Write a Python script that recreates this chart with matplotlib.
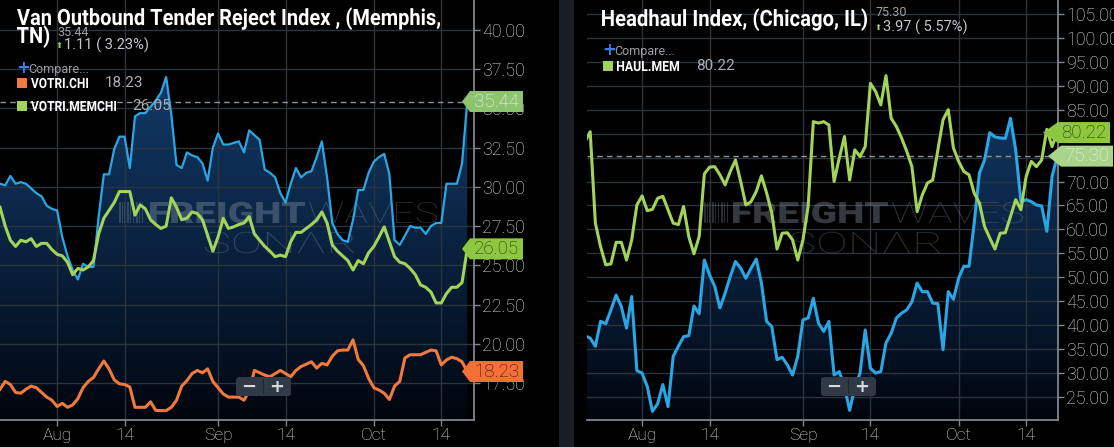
import matplotlib
matplotlib.use('Agg')
import numpy as np
import pandas as pd
import matplotlib.pyplot as plt
import matplotlib.dates as mdates
from matplotlib.patches import Polygon, FancyBboxPatch, Rectangle, PathPatch
from matplotlib.transforms import IdentityTransform, Affine2D
from matplotlib.textpath import TextPath
from matplotlib.font_manager import FontProperties

W, H = 1114, 447

start_date = '2019-07-21'
tick_dates = ['2019-08-01', '2019-08-14', '2019-09-01', '2019-09-14', '2019-10-01', '2019-10-14']
tick_labels = ['Aug', '14', 'Sep', '14', 'Oct', '14']

# left panel: Van Outbound Tender Reject Index (Memphis) + compares
votri_mem = [30.2, 30.1, 30.7, 30.2, 30.3, 30.2, 29.9, 29.6, 29.4, 28.8,
             28.6, 28.5, 26.8, 25.6, 24.7, 24.1, 25.1, 24.9, 24.9, 28.1,
             30.8, 30.8, 32.4, 33.2, 33.2, 31.2, 34.5, 34.7, 34.7, 35.1,
             35.5, 36.0, 37.0, 34.6, 31.4, 31.2, 32.2, 32.0, 31.9, 31.5,
             30.4, 32.5, 33.4, 32.7, 32.7, 32.8, 32.9, 32.2, 33.6, 33.3,
             33.0, 31.1, 30.9, 30.6, 29.6, 29.0, 30.2, 31.2, 30.6, 30.9,
             31.0, 31.9, 32.9, 30.6, 27.7, 27.0, 26.6, 26.5, 27.9, 29.8,
             29.8, 30.9, 31.6, 31.9, 32.1, 30.8, 26.6, 26.3, 26.9, 27.5,
             27.4, 27.4, 27.0, 27.5, 27.7, 27.7, 30.2, 30.2, 30.2, 31.5,
             35.44]
votri_chi = [17.1, 17.6, 17.4, 16.9, 16.85, 17.1, 17.3, 17.2, 16.9, 16.6,
             16.4, 16.0, 16.2, 15.95, 16.1, 16.5, 17.2, 17.6, 17.85, 18.4,
             18.9, 18.4, 17.7, 17.45, 17.4, 17.25, 15.95, 15.95, 15.95, 16.3,
             15.75, 15.74, 15.74, 15.95, 16.4, 17.3, 17.65, 18.1, 18.3, 18.15,
             18.4, 17.6, 17.2, 16.8, 16.6, 16.6, 16.6, 16.4, 17.0, 18.3,
             18.15, 18.0, 17.9, 18.1, 18.3, 18.1, 17.9, 18.3, 18.55, 18.7,
             18.85, 18.45, 18.75, 18.65, 19.2, 19.55, 19.6, 19.6, 20.25, 19.0,
             18.6, 17.8, 17.2, 17.05, 16.85, 16.45, 17.3, 17.6, 19.1, 19.3,
             19.3, 19.3, 19.45, 19.6, 19.55, 18.65, 18.97, 19.14, 19.05, 18.85,
             18.23]
votri_memchi = [28.7, 27.5, 26.6, 26.2, 26.6, 26.5, 26.7, 26.2, 26.4, 26.4,
                26.0, 25.7, 25.6, 25.2, 24.4, 24.8, 24.7, 24.9, 25.3, 27.0,
                28.0, 28.5, 29.0, 29.7, 29.7, 29.7, 28.2, 28.85, 28.6, 27.9,
                27.6, 27.35, 27.5, 29.3, 28.7, 27.9, 28.0, 28.4, 28.3, 27.9,
                26.9, 25.9, 26.8, 28.0, 27.35, 27.45, 27.6, 27.7, 28.1, 27.0,
                26.6, 26.2, 25.9, 25.55, 25.65, 25.55, 26.5, 27.1, 27.1, 27.35,
                27.6, 27.9, 28.4, 27.7, 26.3, 25.9, 25.6, 25.3, 24.7, 25.3,
                25.1, 25.8, 26.2, 26.8, 27.45, 26.5, 25.55, 25.2, 25.1, 24.8,
                24.4, 23.75, 23.6, 23.3, 22.6, 22.6, 23.2, 23.6, 23.6, 23.9,
                26.05]

# right panel: Headhaul Index (Chicago) + HAUL.MEM
haul_chi = [37.8, 37.3, 35.6, 40.8, 40.3, 43.2, 46.3, 43.9, 39.4, 46.0,
            30.5, 30.0, 27.2, 22.0, 23.6, 27.6, 23.0, 33.5, 35.6, 37.6,
            37.8, 44.0, 42.4, 53.6, 50.5, 48.1, 43.6, 46.7, 50.2, 53.3,
            51.9, 49.8, 51.9, 53.8, 48.8, 40.8, 39.7, 32.8, 33.3, 31.7,
            29.6, 33.5, 41.1, 41.5, 45.6, 40.4, 38.7, 40.8, 29.6, 30.3,
            27.2, 22.2, 27.0, 30.0, 39.0, 31.0, 30.0, 30.3, 36.3, 38.3,
            41.5, 42.5, 43.2, 44.9, 48.8, 47.0, 47.0, 44.6, 44.5, 34.9,
            47.0, 45.4, 49.8, 52.3, 52.3, 61.3, 71.7, 74.5, 80.2, 79.3,
            79.1, 79.0, 83.2, 76.6, 65.8, 66.2, 65.8, 65.1, 64.9, 59.6,
            71.0, 75.30]
haul_mem = [78.3, 80.4, 61.3, 56.4, 52.6, 52.8, 57.3, 57.3, 53.6, 57.8,
            65.1, 67.0, 63.9, 64.2, 66.5, 66.9, 64.1, 61.3, 61.0, 64.8,
            58.5, 54.9, 58.5, 71.6, 73.0, 73.1, 71.4, 69.3, 72.1, 74.5,
            70.0, 65.1, 65.8, 67.9, 71.2, 67.6, 63.4, 55.9, 59.2, 59.3,
            57.8, 53.6, 57.8, 64.8, 82.5, 82.2, 82.5, 81.8, 70.0, 74.9,
            79.4, 70.3, 76.6, 75.2, 77.3, 90.5, 88.8, 86.0, 92.1, 83.2,
            81.5, 79.1, 76.3, 73.1, 63.7, 67.2, 69.7, 70.3, 76.6, 82.9,
            85.0, 77.0, 74.2, 72.1, 71.4, 67.6, 65.5, 60.6, 58.2, 55.9,
            59.2, 59.3, 62.7, 66.2, 64.1, 71.0, 74.2, 73.1, 74.5, 80.9,
            77.3, 80.22]

left_yticks = [17.5, 20.0, 22.5, 25.0, 27.5, 30.0, 32.5, 35.0, 37.5, 40.0]
right_yticks = [25, 30, 35, 40, 45, 50, 55, 60, 65, 70, 75, 80, 85, 90, 95, 100, 105]

BLUE = '#2ba6e4'
GREEN = '#a2d35a'
ORANGE = '#f07a3e'
GRID = '#2b333d'
AXIS = '#80868d'
LABEL = '#dde0e3'
FONT = 'Roboto'


def fx(x):
    return x / W


def fy(y):
    return 1 - y / H


def text_path(s, weight, family='Roboto'):
    return TextPath((0, 0), s, size=100, prop=FontProperties(family=family, weight=weight))


def draw_path_text(target, tp, x0, baseline, sx, sy, color, alpha=1.0, zorder=12):
    # text as a path, placed in picture pixels (top-left origin)
    ext = tp.get_extents()
    tr = Affine2D().translate(-ext.x0, 0).scale(sx, sy).translate(x0, H - baseline)
    patch = PathPatch(tp, transform=tr, facecolor=color, edgecolor='none', alpha=alpha, zorder=zorder)
    if hasattr(target, 'add_patch'):
        target.add_patch(patch)
    else:
        target.add_artist(patch)
    return x0 + ext.width * sx


def fit_text(target, s, x0, x1, baseline, cap_h, weight, color, family='Roboto', alpha=1.0, zorder=12):
    tp = text_path(s, weight, family)
    sx = (x1 - x0) / tp.get_extents().width
    sy = cap_h / 71.1
    draw_path_text(target, tp, x0, baseline, sx, sy, color, alpha, zorder)
    return sx, sy


def make_axes(fig, x0, x1):
    return fig.add_axes([fx(x0), fy(420), (x1 - x0) / W, 420 / H])


def style_axes(ax, x0, xlim, ylim, yticks):
    ax.set_facecolor('black')
    ax.set_xlim(x0 + xlim[0], x0 + xlim[1])
    ax.set_ylim(*ylim)
    for s in ['left', 'top']:
        ax.spines[s].set_visible(False)
    for s in ['right', 'bottom']:
        ax.spines[s].set_color(AXIS)
        ax.spines[s].set_linewidth(1.3)
    ax.yaxis.tick_right()
    ax.set_yticks(yticks)
    ax.set_yticklabels(['%.2f' % t for t in yticks], fontfamily=FONT, fontweight='light',
                       fontsize=12.8, color=LABEL)
    xt = mdates.date2num(pd.to_datetime(tick_dates))
    ax.set_xticks(xt)
    ax.set_xticklabels(tick_labels, fontfamily=FONT, fontweight='light', fontsize=12.5, color=LABEL)
    ax.tick_params(axis='both', colors=AXIS, length=4, width=1, labelcolor=LABEL)
    ax.tick_params(axis='y', pad=2)
    ax.tick_params(axis='x', pad=2)
    for t in yticks:
        ax.axhline(t, color=GRID, lw=1, zorder=2)
    for t in xt:
        ax.axvline(t, color=GRID, lw=1, zorder=2)


def gradient_fill(ax, x, y):
    xmin, xmax = ax.get_xlim()
    ymin, ymax = ax.get_ylim()
    poly = ax.fill_between(x, y, ymin, facecolor='none', edgecolor='none')
    f = np.linspace(0, 1, 256) ** 0.8
    top = np.array([20, 66, 118]) / 255
    bot = np.array([0, 3, 10]) / 255
    img = (bot + (top - bot) * f[:, None])[:, None, :]
    im = ax.imshow(img, extent=[xmin, xmax, ymin, ymax], origin='lower',
                   aspect='auto', zorder=1, interpolation='bilinear')
    im.set_clip_path(poly.get_paths()[0], transform=ax.transData)
    ax.set_xlim(xmin, xmax)
    ax.set_ylim(ymin, ymax)


def add_badge(fig, ax, value, tip, x0, x1, fc, tc):
    y = ax.transData.transform((ax.get_xlim()[0], value))[1]
    h = 10.5
    pts = [(tip, y), (x0, y + h), (x1, y + h), (x1, y - h), (x0, y - h)]
    fig.add_artist(Polygon(pts, closed=True, transform=IdentityTransform(),
                           facecolor=fc, edgecolor='none', zorder=10))
    fig.text((x0 + x1) / 2, y, '%.2f' % value, transform=IdentityTransform(),
             ha='center', va='center', fontsize=13.5, fontweight='light', color=tc,
             family=FONT, zorder=11)


def add_watermark(ax, x_bar, x_fr, x_wv, x_end, x_sonar, x_sonar_end):
    t = IdentityTransform()
    col = '#8a97a6'
    for i, xb in enumerate([0, 3, 5, 8, 11, 14, 17, 20, 23]):
        ax.add_patch(Rectangle((x_bar + xb, H - 223), 1.8 if i % 3 == 0 else 1.1, 21,
                               transform=t, facecolor=col, edgecolor='none', alpha=0.3, zorder=2.5))
    fit_text(ax, 'FREIGHT', x_fr, x_wv - 2, 223, 21, 'black', col, alpha=0.38, zorder=2.5)
    fit_text(ax, 'WAVES', x_wv + 2, x_end, 223, 21, 'light', col, alpha=0.32, zorder=2.5)
    fit_text(ax, 'SONΛR', x_sonar, x_sonar_end, 253, 21, 'light', col, alpha=0.32, zorder=2.5)


def add_zoom_buttons(fig, x0):
    t = IdentityTransform()
    fig.add_artist(FancyBboxPatch((x0, H - 396), 55, 19, boxstyle='round,pad=0,rounding_size=3',
                                  transform=t, facecolor='#2f3a46', edgecolor='none', zorder=12))
    fig.add_artist(Rectangle((x0 + 27, H - 394), 1, 15, transform=t, facecolor='#1d252e',
                             edgecolor='none', zorder=13))
    fig.text(x0 + 13, H - 386.5, '−', transform=t, ha='center', va='center', fontsize=13,
             fontweight='bold', color='#d6dade', family='DejaVu Sans', zorder=13)
    fig.text(x0 + 41, H - 386.5, '+', transform=t, ha='center', va='center', fontsize=13,
             fontweight='bold', color='#d6dade', family='DejaVu Sans', zorder=13)


def add_legend_row(fig, x, y, color, name, value, name_end, value_x):
    fig.add_artist(Rectangle((x, H - y - 5), 9.5, 10, transform=IdentityTransform(),
                             facecolor=color, edgecolor='none', zorder=12))
    fit_text(fig, name, x + 14, name_end, y + 5, 10, 'bold', 'white')
    fig.text(fx(value_x), fy(y), value, fontsize=11, color='#a9aeb4', family=FONT,
             va='center', zorder=12)


def add_compare(fig, x, y):
    fig.text(fx(x), fy(y), '+', fontsize=12, fontweight='bold', color='#3b7fe0',
             family='DejaVu Sans', va='center', zorder=12)
    fig.text(fx(x + 12), fy(y + 1), 'Compare...', fontsize=9, color='#9aa0a6',
             family=FONT, va='center', zorder=12)


def main():
    fig = plt.figure(figsize=(W / 100, H / 100), dpi=100, facecolor='black')
    base = mdates.date2num(pd.Timestamp(start_date))

    # separator between the two panels
    fig.add_artist(Rectangle((fx(559), 0), 15 / W, 1, transform=fig.transFigure,
                             facecolor='#181e25', edgecolor='none', zorder=0))

    # ---- left panel
    axl = make_axes(fig, 0, 474)
    style_axes(axl, base, (0, 91.3), (15.14, 41.91), left_yticks)
    xl = mdates.date2num(pd.date_range(start_date, periods=len(votri_mem), freq='D'))
    gradient_fill(axl, xl, votri_mem)
    axl.plot(xl, votri_mem, color=BLUE, lw=1.6, zorder=4)
    axl.plot(xl, votri_memchi, color=GREEN, lw=2.2, zorder=5)
    axl.plot(xl, votri_chi, color=ORANGE, lw=2.2, zorder=5)
    axl.axhline(votri_mem[-1], color='#8d939a', lw=1, ls=(0, (4, 3)), zorder=3)
    add_watermark(axl, 119, 150, 307, 437, 205, 354)

    # ---- right panel
    axr = make_axes(fig, 586.5, 1058)
    style_axes(axr, base, (0.29, 91.15), (20.2, 107.9), right_yticks)
    xr = mdates.date2num(pd.date_range(start_date, periods=len(haul_chi), freq='D'))
    gradient_fill(axr, xr, haul_chi)
    axr.plot(xr, haul_chi, color=BLUE, lw=2.2, zorder=4)
    axr.plot(xr, haul_mem, color=GREEN, lw=2.2, zorder=5)
    axr.axhline(haul_chi[-1], color='#8d939a', lw=1, ls=(0, (4, 3)), zorder=3)
    add_watermark(axr, 704, 733, 890, 1023, 790, 940)

    # value badges on the right edge
    add_badge(fig, axl, votri_mem[-1], 462, 470, 523, '#8dc470', '#f2f7ee')
    add_badge(fig, axl, votri_memchi[-1], 462, 470, 523, '#8dc63f', '#1f3510')
    add_badge(fig, axl, votri_chi[-1], 462, 470, 523, '#f26f38', '#3a1405')
    add_badge(fig, axr, haul_mem[-1], 1043, 1058, 1110, '#8dc63f', '#1f3510')
    add_badge(fig, axr, haul_chi[-1], 1048, 1061, 1113, '#a8d48c', '#eef5e8')

    add_zoom_buttons(fig, 236)
    add_zoom_buttons(fig, 821)

    # ---- headers (condensed bold titles drawn as squeezed paths)
    sx, sy = fit_text(fig, 'Van Outbound Tender Reject Index , (Memphis,', 17, 440, 25, 16,
                      'bold', 'white')
    draw_path_text(fig, text_path('TN)', 'bold'), 17, 43, sx, sy, 'white')
    fig.text(fx(57), fy(32), '%.2f' % votri_mem[-1], fontsize=9, color='#9ca2a8',
             family=FONT, va='center', zorder=12)
    fig.text(fx(56), fy(45), '⬆', fontsize=6, color=GREEN, family='DejaVu Sans',
             va='center', zorder=12)
    fig.text(fx(64), fy(45), '1.11 ( 3.23%)', fontsize=10.5, color='#c3c8cd',
             family=FONT, va='center', zorder=12)
    add_compare(fig, 16, 68)
    add_legend_row(fig, 17, 83, ORANGE, 'VOTRI.CHI', '18.23', 88, 105)
    add_legend_row(fig, 17, 106, GREEN, 'VOTRI.MEMCHI', '26.05', 116, 132)

    fit_text(fig, 'Headhaul Index, (Chicago, IL)', 602, 867, 26, 16, 'bold', 'white')
    fig.text(fx(876), fy(13), '%.2f' % haul_chi[-1], fontsize=9, color='#9ca2a8',
             family=FONT, va='center', zorder=12)
    fig.text(fx(875), fy(27), '⬆', fontsize=6, color=GREEN, family='DejaVu Sans',
             va='center', zorder=12)
    fig.text(fx(883), fy(27), '3.97 ( 5.57%)', fontsize=10.5, color='#c3c8cd',
             family=FONT, va='center', zorder=12)
    add_compare(fig, 602, 50)
    add_legend_row(fig, 603, 66, GREEN, 'HAUL.MEM', '80.22', 679, 696)

    fig.savefig('out.png', dpi=100, facecolor='black')


if __name__ == '__main__':
    main()
